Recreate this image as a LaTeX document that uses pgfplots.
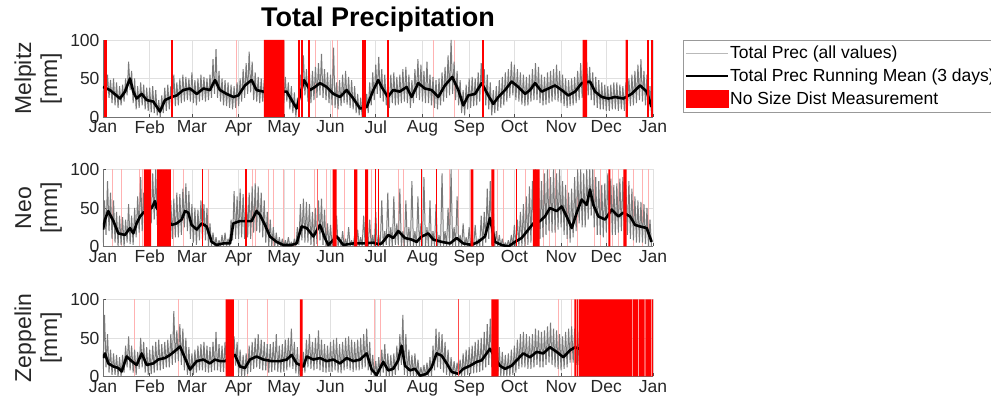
\documentclass[border=0pt]{standalone}
\usepackage{fontspec}
\setmainfont{Liberation Sans}
\usepackage{pgfplots}
\usepackage{pgfplotstable}
\pgfplotsset{compat=1.18}

\newcommand\tickfont{\fontsize{17.5}{20}\selectfont}
\newcommand\labfont{\fontsize{23}{26}\selectfont}

\pgfplotstableread[header=false,row sep=\\]{
22\\58\\20\\55\\25\\48\\18\\50\\15\\45\\
12\\40\\15\\42\\20\\50\\28\\72\\35\\60\\
18\\50\\10\\40\\12\\45\\15\\42\\10\\38\\
8\\38\\6\\40\\5\\35\\2\\22\\0\\28\\
5\\38\\8\\42\\10\\40\\12\\55\\14\\45\\
15\\50\\18\\55\\20\\52\\22\\50\\20\\58\\
18\\48\\15\\50\\20\\55\\22\\52\\20\\50\\
22\\55\\25\\75\\30\\88\\25\\60\\20\\50\\
15\\48\\14\\45\\12\\42\\10\\40\\12\\45\\
14\\50\\20\\62\\25\\70\\30\\85\\32\\72\\
22\\58\\20\\52\\18\\50\\20\\48\\18\\50\\
20\\50\\18\\48\\20\\50\\18\\48\\20\\50\\
18\\52\\20\\45\\10\\40\\5\\32\\0\\25\\
12\\55\\30\\80\\28\\62\\20\\58\\18\\60\\
22\\65\\25\\70\\28\\82\\25\\62\\22\\58\\
18\\55\\15\\90\\12\\45\\10\\48\\14\\55\\
18\\60\\16\\52\\12\\48\\10\\40\\5\\30\\
2\\25\\0\\28\\3\\30\\5\\45\\15\\58\\
22\\68\\30\\78\\25\\62\\20\\55\\15\\45\\
12\\55\\18\\58\\15\\52\\16\\55\\18\\62\\
20\\65\\18\\55\\12\\48\\18\\62\\25\\75\\
22\\68\\20\\60\\18\\72\\18\\55\\15\\52\\
12\\48\\10\\50\\15\\58\\20\\65\\25\\80\\
28\\100\\30\\72\\22\\60\\15\\48\\5\\35\\
2\\42\\10\\50\\12\\52\\14\\50\\15\\58\\
20\\70\\25\\62\\15\\55\\10\\45\\2\\35\\
5\\40\\8\\48\\12\\52\\15\\58\\20\\62\\
25\\72\\28\\68\\22\\62\\20\\58\\16\\55\\
14\\52\\15\\55\\20\\62\\22\\70\\22\\65\\
18\\55\\15\\52\\16\\58\\18\\60\\20\\62\\
22\\68\\20\\60\\18\\55\\14\\50\\12\\48\\
14\\50\\15\\52\\18\\60\\22\\70\\25\\68\\
25\\72\\28\\65\\22\\58\\15\\52\\12\\48\\
10\\45\\10\\42\\8\\40\\8\\42\\10\\45\\
10\\45\\8\\42\\10\\40\\8\\45\\12\\50\\
14\\55\\15\\60\\18\\68\\22\\75\\20\\60\\
15\\55\\8\\40\\2\\
}\melgrey

\pgfplotstableread[header=false,row sep=\\]{
5\\60\\15\\85\\20\\70\\10\\60\\5\\45\\
0\\40\\2\\38\\0\\35\\5\\55\\3\\40\\
2\\50\\12\\65\\18\\90\\20\\70\\25\\75\\
30\\80\\30\\95\\35\\100\\28\\75\\25\\70\\
15\\65\\12\\60\\10\\60\\10\\62\\12\\70\\
12\\68\\15\\75\\25\\82\\20\\72\\10\\55\\
5\\50\\2\\48\\8\\60\\10\\55\\8\\50\\
0\\30\\0\\18\\0\\12\\0\\8\\0\\15\\
0\\18\\0\\10\\0\\35\\8\\72\\10\\65\\
10\\75\\12\\68\\10\\80\\12\\70\\10\\78\\
18\\82\\20\\78\\18\\70\\12\\60\\5\\45\\
0\\35\\0\\25\\0\\18\\0\\12\\0\\10\\
0\\8\\0\\12\\0\\6\\0\\10\\0\\25\\
2\\55\\8\\62\\5\\58\\5\\55\\2\\45\\
0\\50\\3\\60\\8\\62\\2\\48\\0\\30\\
0\\28\\0\\15\\0\\40\\0\\12\\0\\20\\
0\\10\\0\\25\\0\\8\\0\\15\\0\\22\\
0\\12\\0\\40\\0\\10\\0\\35\\0\\15\\
0\\45\\0\\15\\0\\60\\0\\20\\2\\70\\
0\\25\\0\\65\\2\\30\\2\\75\\0\\20\\
0\\60\\0\\25\\0\\85\\0\\20\\0\\65\\
0\\30\\0\\90\\0\\25\\0\\60\\0\\20\\
0\\55\\0\\15\\0\\95\\0\\20\\0\\50\\
0\\100\\0\\25\\0\\65\\0\\15\\0\\30\\
0\\12\\0\\25\\0\\8\\0\\28\\0\\10\\
0\\40\\0\\45\\5\\75\\10\\85\\2\\50\\
0\\20\\0\\15\\0\\10\\0\\5\\0\\8\\
0\\15\\0\\28\\0\\35\\0\\45\\0\\55\\
0\\65\\2\\78\\5\\85\\8\\100\\10\\90\\
10\\85\\12\\95\\15\\100\\20\\90\\18\\100\\
18\\95\\22\\100\\25\\85\\15\\80\\10\\70\\
5\\75\\12\\90\\20\\100\\30\\100\\25\\95\\
25\\100\\35\\100\\40\\100\\25\\90\\15\\85\\
15\\80\\12\\82\\18\\95\\20\\88\\15\\80\\
15\\82\\18\\88\\20\\90\\15\\80\\15\\85\\
10\\75\\8\\65\\5\\60\\5\\58\\5\\55\\
3\\50\\0\\35\\0\\
}\neogrey

\pgfplotstableread[header=false,row sep=\\]{
10\\80\\12\\55\\5\\35\\2\\30\\2\\28\\
0\\25\\0\\28\\5\\40\\12\\52\\8\\40\\
5\\35\\2\\32\\10\\50\\12\\45\\5\\38\\
2\\35\\3\\40\\5\\45\\8\\48\\8\\42\\
10\\45\\12\\48\\12\\55\\15\\85\\18\\60\\
20\\68\\15\\62\\8\\50\\2\\38\\0\\30\\
2\\35\\5\\40\\8\\42\\8\\45\\6\\40\\
5\\38\\6\\45\\8\\58\\8\\42\\6\\40\\
6\\45\\8\\48\\10\\50\\12\\52\\14\\45\\
2\\35\\0\\28\\0\\30\\3\\40\\6\\45\\
10\\50\\12\\55\\10\\48\\8\\45\\8\\42\\
5\\42\\6\\45\\8\\55\\6\\40\\5\\42\\
6\\48\\8\\50\\12\\62\\10\\45\\4\\38\\
0\\30\\0\\32\\5\\48\\12\\55\\10\\45\\
8\\50\\10\\60\\8\\48\\6\\42\\5\\40\\
6\\45\\6\\48\\8\\50\\5\\42\\4\\45\\
8\\50\\10\\52\\8\\48\\6\\45\\8\\48\\
8\\50\\10\\55\\12\\62\\8\\45\\2\\28\\
0\\20\\0\\25\\0\\35\\5\\42\\0\\30\\
0\\28\\0\\30\\2\\40\\8\\55\\15\\80\\
2\\55\\0\\35\\0\\28\\0\\30\\0\\22\\
0\\12\\0\\15\\0\\18\\0\\25\\0\\40\\
8\\62\\12\\58\\10\\55\\5\\45\\2\\35\\
0\\25\\0\\20\\0\\18\\0\\22\\0\\30\\
0\\35\\2\\38\\3\\40\\4\\45\\5\\48\\
6\\50\\8\\58\\12\\68\\15\\75\\12\\60\\
5\\45\\2\\38\\0\\32\\0\\28\\0\\30\\
0\\35\\2\\40\\5\\48\\10\\55\\12\\58\\
12\\55\\10\\52\\10\\55\\12\\62\\15\\60\\
12\\58\\12\\60\\15\\65\\18\\70\\15\\62\\
12\\60\\10\\55\\8\\52\\10\\58\\12\\62\\
18\\65\\18\\62\\15\\60\\15\\58\\15\\55\\
}\zepgrey

\pgfplotsset{
 panel/.style={
  scale only axis, width=550pt, height=77pt,
  xmin=0, xmax=365, ymin=0, ymax=100,
  xtick={0,31,59,90,120,151,181,212,243,273,304,334,365},
  xticklabels={Jan,Feb,Mar,Apr,May,Jun,Jul,Aug,Sep,Oct,Nov,Dec,Jan},
  ytick={0,50,100},
  grid=major, major grid style={black!12, line width=0.5pt},
  axis x line*=bottom, axis y line*=left,
  axis line style={black!55, line width=0.6pt},
  tick align=inside, major tick length=3pt,
  tick style={black!70, line width=0.6pt},
  ticklabel style={font=\tickfont, text=black!85},
  /pgf/number format/assume math mode=true,
  ylabel style={font=\labfont, text=black!85, align=center,
    at={(axis description cs:-0.0745,0.5)}, anchor=south, inner sep=0pt},
  clip=true,
 },
 greyline/.style={black!52, line width=1.0pt, forget plot, mark=none, line join=miter, miter limit=1},
 meanline/.style={black, line width=2.6pt, forget plot, mark=none, line join=round},
 redcomb/.style={ycomb, red, line width=1.8pt, forget plot, mark=none},
 pinkcomb/.style={ycomb, red!30, line width=0.7pt, forget plot, mark=none},
}
\newcommand\redblock[2]{\addplot[fill=red, draw=none, forget plot] coordinates {(#1,0)(#1,100)(#2,100)(#2,0)} \closedcycle;}

\begin{document}
\begin{tikzpicture}
% ---------------- Melpitz ----------------
\begin{axis}[panel, at={(103pt,287pt)}, anchor=south west,
  ylabel={Melpitz\\{}[mm]},
  title={Total Precipitation},
  title style={font=\bfseries\fontsize{27}{30}\selectfont, at={(axis description cs:0.5,1)}, anchor=south, inner sep=0pt, yshift=2pt},
  legend style={at={(axis description cs:1.0545,1.005)}, anchor=north west, draw=black!40, fill=white,
    font=\tickfont, inner xsep=2pt, inner ysep=5pt, row sep=5.5pt, cells={anchor=west},
    nodes={inner sep=1.5pt}},
]
\addlegendimage{legend image code/.code={\draw[gray!55, line width=0.6pt] (0pt,0pt) -- (42pt,0pt);}}
\addlegendentry{Total Prec (all values)}
\addlegendimage{legend image code/.code={\draw[black, line width=1.5pt] (0pt,0pt) -- (42pt,0pt);}}
\addlegendentry{Total Prec Running Mean (3 days)}
\addlegendimage{legend image code/.code={\fill[red] (0pt,-8.5pt) rectangle (42pt,8.5pt);}}
\addlegendentry{No Size Dist Measurement}
\addplot[pinkcomb] coordinates {(88.7,100)(141,100)(152,100)(155.7,100)(219.2,100)(232.9,100)};
\addplot[greyline] table[x expr=\coordindex, y index=0] {\melgrey};
\addplot[meanline] coordinates {(0,39)(4.6,35)(11.3,24)(14.6,33)(17.9,50)(20.1,33)(22.3,24)(25.7,30)(29,22)(33.4,20)(37.8,7)(41.1,22)(45.6,26)(48.9,28)(53.3,35)(57.7,37)(62.2,30)(66.6,37)(71,35)(74.3,48)(77.6,35)(82,30)(86.5,26)(89.8,28)(94.2,41)(98.6,48)(101.9,35)(106.4,33)(114,33)(121.9,33)(125.2,22)(128.5,11)(130.7,28)(133.4,48)(137.4,35)(140.7,39)(144,44)(148.4,39)(152.9,30)(157.3,26)(161.7,35)(166.1,24)(170.6,11)(175,13)(179.4,35)(182.7,48)(184.9,39)(189,26)(192.6,35)(197,33)(201.5,39)(204.8,26)(209.2,44)(213.6,37)(218.1,35)(222.5,26)(226.9,41)(231.8,52)(235.8,35)(239.1,15)(242.4,28)(246.9,30)(251.3,44)(255.7,28)(259,17)(262.4,26)(266.8,35)(271.2,46)(275.6,39)(280.1,30)(283.4,35)(286.7,44)(291.1,33)(295.6,37)(300,41)(304.4,35)(308.8,28)(313.3,33)(317.7,44)(323.2,46)(326.5,33)(331,26)(335.4,24)(339.8,26)(345.3,24)(350.8,30)(356.4,41)(360.8,33)(364.1,13)};
\redblock{106.8}{120.3}
\redblock{318.3}{321.2}
\redblock{346.8}{348.3}
\addplot[redcomb] coordinates {(1,100)(2.2,100)(46,100)(130,100)(132,100)(136.5,100)(172.8,100)(174,100)(189,100)(252,100)(361.9,100)(364.1,100)};
\end{axis}
% ---------------- Neo ----------------
\begin{axis}[panel, at={(103pt,157.5pt)}, anchor=south west, ylabel={Neo\\{}[mm]}]
\addplot[pinkcomb] coordinates {(6,100)(12,100)(24,100)(26,100)(47,100)(53,100)(70,100)(99,100)(101,100)(110,100)(113,100)(120,100)(127,100)(140,100)(148,100)(160,100)(178,100)(196,100)(199,100)(230,100)(236,100)(262,100)(266,100)(280,100)(292,100)(296,100)(300,100)(308,100)(315,100)(326,100)(330,100)(338,100)(342,100)(352,100)(358,100)(362,100)};
\addplot[greyline] table[x expr=\coordindex, y index=0] {\neogrey};
\addplot[meanline] coordinates {(0,22)(1.3,35)(3.5,46)(6.9,33)(10.2,17)(14.6,15)(17.9,24)(20.1,17)(22.3,30)(24.6,39)(26.8,44)(32.3,50)(34.5,59)(35.6,50)(45.6,28)(48.9,30)(52.2,35)(54.4,46)(56.6,44)(58.8,28)(62.2,22)(65.5,30)(68.8,26)(72.1,6)(75.4,2)(79.9,4)(84.3,4)(86.5,30)(90.9,33)(95.3,33)(98.6,33)(101.9,46)(104.2,41)(107.5,28)(110.8,13)(115.2,6)(119.6,2)(125.2,2)(128.5,4)(131.8,26)(135.2,24)(139.6,13)(144,28)(147.3,11)(149.5,2)(155.1,13)(159.5,2)(166.1,4)(172.8,4)(179.4,5)(182.7,3)(184.9,4)(189.4,15)(192.6,11)(196,20)(200.4,11)(204.8,9)(208.1,6)(211.5,13)(215.9,17)(219.2,9)(224.8,6)(230.3,4)(234.7,11)(239.1,4)(244.6,2)(249,6)(253.5,13)(256.8,37)(260.1,6)(264.5,2)(269,0)(273.4,6)(277.8,11)(282.3,22)(285.6,30)(290,33)(293.3,39)(296.6,50)(301.1,46)(304.4,52)(307.7,39)(311.1,24)(314.4,44)(317.7,61)(321,54)(323.2,74)(325.4,54)(328.8,39)(333.2,35)(337.6,48)(342,39)(345.3,44)(349.8,39)(353.1,28)(356.4,26)(360.8,24)(364.1,6)};
\redblock{27.2}{31.9}
\redblock{36}{45.1}
\redblock{152.4}{155}
\redblock{166.6}{168.8}
\redblock{173.9}{175.9}
\redblock{243.9}{245.8}
\redblock{257.7}{259.7}
\redblock{285.3}{289.8}
\redblock{335.3}{336.7}
\redblock{345.3}{347.5}
\addplot[redcomb, line width=1.2pt] coordinates {(65.9,100)(94.9,100)(181,100)(182.7,100)(211.5,100)(221.4,100)(274.5,100)};
\addplot[ycomb, red!60, line width=1.5pt, forget plot, mark=none] coordinates {(142.2,100)};
\end{axis}
% ---------------- Zeppelin ----------------
\begin{axis}[panel, at={(103pt,27.5pt)}, anchor=south west, ylabel={Zeppelin\\{}[mm]}]
\addplot[pinkcomb] coordinates {(21,100)(50,100)(95.8,100)(109,100)(180,100)(184,100)(302,100)(311,100)};
\addplot[greyline] table[x expr=\coordindex, y index=0] {\zepgrey};
\addplot[meanline] coordinates {(0,24)(1.3,30)(3.5,17)(6.9,13)(10.2,11)(12.4,6.5)(15.7,26)(19,20)(22.3,15)(25.7,30)(29,15)(33.4,17)(36.7,22)(41.1,24)(44.5,28)(48.9,35)(51.1,39)(54.4,24)(57.7,9)(62.2,20)(66.6,22)(71,17)(74.3,22)(77.6,20)(81,20)(87.6,28)(90.9,13)(94.2,11)(97.5,22)(101.9,26)(106.4,22)(111.9,20)(117.5,20)(121.9,22)(125.2,28)(128.5,17)(133,13)(135.2,26)(139.6,22)(144,24)(148.4,20)(152.9,22)(157.3,17)(161.7,24)(166.1,20)(170.6,22)(175,30)(178.3,9)(181.6,2)(186,19)(189.3,8)(192.6,10)(195.9,21)(198.2,40)(200.4,14)(203.7,8)(207.1,10)(210.4,1)(214.8,3.5)(218.1,12)(221.4,30)(224.8,27)(228.1,17)(231.4,6)(235.8,3.5)(239.1,10)(243.6,14)(248,19)(251.3,21)(254.6,30)(256.8,36)(263.4,14)(266.8,10)(271.2,14)(274.5,21)(278.9,30)(283.4,25)(287.8,32)(292.2,30)(296.6,38)(301.1,32)(305.5,25)(309.9,34)(313.2,38)(316,36)};
\addplot[ycomb, red!70, line width=1.2pt, forget plot, mark=none] coordinates {(236,100)};
\redblock{81.4}{86.9}
\redblock{130.7}{132.5}
\redblock{257.7}{262.6}
\redblock{312.8}{314.1}
\redblock{314.5}{315.2}
\redblock{315.6}{351.3}
\redblock{351.7}{355}
\redblock{355.4}{359.5}
\redblock{359.9}{363.9}
\redblock{364.3}{365}
\end{axis}
\pgfresetboundingbox
\path[use as bounding box] (0pt,0pt) rectangle (991pt,404pt);
\end{tikzpicture}
\end{document}
